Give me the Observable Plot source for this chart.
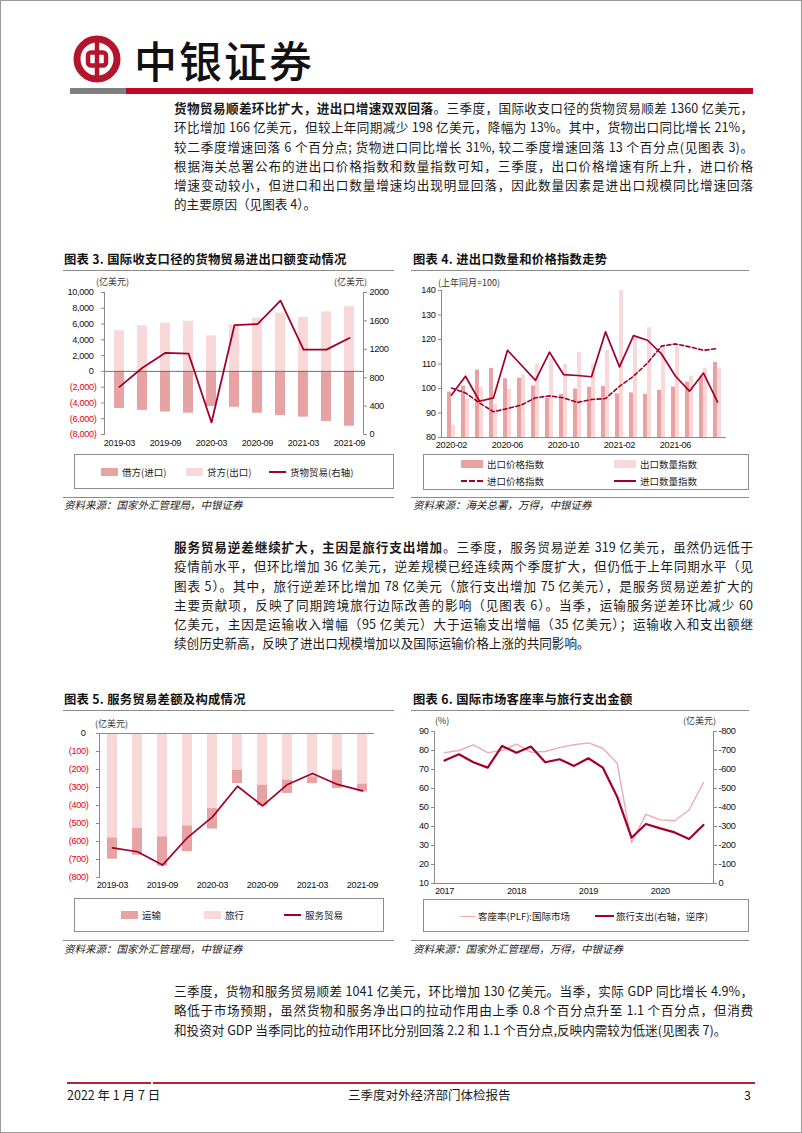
<!DOCTYPE html>
<html><head><meta charset="utf-8">
<script src="https://cdn.jsdelivr.net/npm/d3@7"></script>
<script src="https://cdn.jsdelivr.net/npm/@observablehq/plot@0.6"></script>
<style>
html,body{margin:0;padding:0;background:#fff;}
#page{position:relative;width:802px;height:1133px;overflow:hidden;font-family:"Noto Sans CJK SC","Noto Sans",sans-serif;color:#1a1a1a;box-sizing:border-box;border:1px solid #9a9a9a;}
.abs{position:absolute;}
.para{position:absolute;left:173px;width:579px;font-size:12.6px;line-height:19.3px;}
.para div{height:19.3px;overflow:visible;text-align:justify;text-align-last:justify;}
.para div.last{text-align-last:left;}
.para b{font-weight:700;}
.ctitle{position:absolute;font-size:12.3px;font-weight:700;letter-spacing:0.3px;line-height:16px;color:#111;}
.rule{position:absolute;height:1px;background:#8c8c8c;}
.src{position:absolute;font-size:10.5px;font-style:italic;color:#222;line-height:14px;}
.chart{position:absolute;}
.chart svg{position:absolute;left:0;top:0;max-width:none !important;}
.unit{position:absolute;font-size:9px;color:#333;line-height:11px;white-space:nowrap;}
.legend{position:absolute;border:1px solid #8c8c8c;box-sizing:border-box;}
.li{position:absolute;font-size:9.5px;color:#222;line-height:12px;white-space:nowrap;display:flex;align-items:center;}
.sw{display:inline-block;width:17px;height:8px;margin-right:4px;}
.ln{display:inline-block;width:17px;height:0;margin-right:4px;}
</style></head>
<body>
<div id="page">
  <svg class="abs" style="left:70px;top:32px" width="54" height="54" viewBox="0 0 54 54">
    <circle cx="26" cy="26" r="20" fill="none" stroke="#b3152d" stroke-width="7"/>
    <rect x="17" y="19.5" width="18" height="13" rx="3" fill="none" stroke="#b3152d" stroke-width="4.5"/>
    <line x1="26" y1="4" x2="26" y2="48" stroke="#b3152d" stroke-width="4.5"/>
  </svg>
  <div class="abs" style="left:133px;top:30px;font-size:43px;line-height:56px;font-weight:500;letter-spacing:2px;color:#111;">中银证券</div>
  <div class="abs" style="left:69px;top:87px;width:56px;height:6px;background:#7f7f7f;"></div>
  <div class="abs" style="left:125px;top:87px;width:627px;height:6px;background:#bf0a26;"></div>

  <div class="para" style="top:97px">
    <div><b>货物贸易顺差环比扩大，进出口增速双双回落</b>。三季度，国际收支口径的货物贸易顺差 1360 亿美元，</div>
    <div>环比增加 166 亿美元，但较上年同期减少 198 亿美元，降幅为 13%。其中，货物出口同比增长 21%，</div>
    <div>较二季度增速回落 6 个百分点; 货物进口同比增长 31%, 较二季度增速回落 13 个百分点(见图表 3)。</div>
    <div>根据海关总署公布的进出口价格指数和数量指数可知，三季度，出口价格增速有所上升，进口价格</div>
    <div>增速变动较小，但进口和出口数量增速均出现明显回落，因此数量因素是进出口规模同比增速回落</div>
    <div class="last">的主要原因（见图表 4）。</div>
  </div>

  <!-- chart 3 -->
  <div class="ctitle" style="left:63px;top:250px">图表 3. 国际收支口径的货物贸易进出口额变动情况</div>
  <div class="rule" style="left:62px;top:269px;width:331px"></div>
  <div class="unit" style="left:95px;top:275px">(亿美元)</div>
  <div class="unit" style="left:333px;top:275px">(亿美元)</div>
  <div id="c3" class="chart" style="left:62px;top:275px;width:336px;height:175px"></div>
  <div class="legend" style="left:73px;top:453px;width:320px;height:35px">
    <div class="li" style="left:26px;top:11px"><span class="sw" style="background:#e7a2a4"></span>借方(进口)</div>
    <div class="li" style="left:111px;top:11px"><span class="sw" style="background:#f8d8d8"></span>贷方(出口)</div>
    <div class="li" style="left:194px;top:11px"><span class="ln" style="border-top:2px solid #a0002a"></span>货物贸易(右轴)</div>
  </div>
  <div class="rule" style="left:62px;top:496px;width:331px"></div>
  <div class="src" style="left:63px;top:497px">资料来源：国家外汇管理局，中银证券</div>

  <!-- chart 4 -->
  <div class="ctitle" style="left:412px;top:250px">图表 4. 进出口数量和价格指数走势</div>
  <div class="rule" style="left:410px;top:269px;width:338px"></div>
  <div class="unit" style="left:437px;top:276px">(上年同月=100)</div>
  <div id="c4" class="chart" style="left:410px;top:275px;width:338px;height:180px"></div>
  <div class="legend" style="left:422px;top:453px;width:326px;height:36px">
    <div class="li" style="left:37px;top:3px"><span class="sw" style="background:#e7a2a4;width:22px"></span>出口价格指数</div>
    <div class="li" style="left:190px;top:3px"><span class="sw" style="background:#f8d8d8;width:22px"></span>出口数量指数</div>
    <div class="li" style="left:37px;top:20px"><span class="ln" style="width:22px;border-top:2px dashed #a0002a"></span>进口价格指数</div>
    <div class="li" style="left:190px;top:20px"><span class="ln" style="width:22px;border-top:2px solid #a0002a"></span>进口数量指数</div>
  </div>
  <div class="rule" style="left:410px;top:496px;width:338px"></div>
  <div class="src" style="left:412px;top:497px">资料来源：海关总署，万得，中银证券</div>

  <div class="para" style="top:536px">
    <div><b>服务贸易逆差继续扩大，主因是旅行支出增加</b>。三季度，服务贸易逆差 319 亿美元，虽然仍远低于</div>
    <div>疫情前水平，但环比增加 36 亿美元，逆差规模已经连续两个季度扩大，但仍低于上年同期水平（见</div>
    <div>图表 5）。其中，旅行逆差环比增加 78 亿美元（旅行支出增加 75 亿美元），是服务贸易逆差扩大的</div>
    <div>主要贡献项，反映了同期跨境旅行边际改善的影响（见图表 6）。当季，运输服务逆差环比减少 60</div>
    <div>亿美元，主因是运输收入增幅（95 亿美元）大于运输支出增幅（35 亿美元）；运输收入和支出额继</div>
    <div class="last">续创历史新高，反映了进出口规模增加以及国际运输价格上涨的共同影响。</div>
  </div>

  <!-- chart 5 -->
  <div class="ctitle" style="left:63px;top:690px">图表 5. 服务贸易差额及构成情况</div>
  <div class="rule" style="left:62px;top:709px;width:331px"></div>
  <div class="unit" style="left:94px;top:717px">(亿美元)</div>
  <div id="c5" class="chart" style="left:62px;top:715px;width:336px;height:180px"></div>
  <div class="legend" style="left:73px;top:897px;width:310px;height:34px">
    <div class="li" style="left:46px;top:10px"><span class="sw" style="background:#e7a2a4"></span>运输</div>
    <div class="li" style="left:129px;top:10px"><span class="sw" style="background:#f8d8d8"></span>旅行</div>
    <div class="li" style="left:209px;top:10px"><span class="ln" style="border-top:2px solid #a0002a"></span>服务贸易</div>
  </div>
  <div class="rule" style="left:62px;top:939px;width:331px"></div>
  <div class="src" style="left:63px;top:941px">资料来源：国家外汇管理局，中银证券</div>

  <!-- chart 6 -->
  <div class="ctitle" style="left:412px;top:690px">图表 6. 国际市场客座率与旅行支出金额</div>
  <div class="rule" style="left:410px;top:709px;width:338px"></div>
  <div class="unit" style="left:434px;top:714px">(%)</div>
  <div class="unit" style="left:682px;top:714px">(亿美元)</div>
  <div id="c6" class="chart" style="left:410px;top:715px;width:338px;height:185px"></div>
  <div class="legend" style="left:422px;top:898px;width:326px;height:33px">
    <div class="li" style="left:36px;top:10px"><span class="ln" style="width:15px;border-top:1.5px solid #eeaab0;margin-right:3px"></span>客座率(PLF):国际市场</div>
    <div class="li" style="left:171px;top:10px"><span class="ln" style="width:19px;border-top:2.5px solid #a0002a;margin-right:2px"></span>旅行支出(右轴，逆序)</div>
  </div>
  <div class="rule" style="left:410px;top:939px;width:338px"></div>
  <div class="src" style="left:412px;top:941px">资料来源：国家外汇管理局，万得，中银证券</div>

  <div class="para" style="top:980px">
    <div>三季度，货物和服务贸易顺差 1041 亿美元，环比增加 130 亿美元。当季，实际 GDP 同比增长 4.9%，</div>
    <div>略低于市场预期，虽然货物和服务净出口的拉动作用由上季 0.8 个百分点升至 1.1 个百分点，但消费</div>
    <div class="last">和投资对 GDP 当季同比的拉动作用环比分别回落 2.2 和 1.1 个百分点,反映内需较为低迷(见图表 7)。</div>
  </div>

  <div class="abs" style="left:66px;top:1081px;width:84px;height:2px;background:#b0213a;"></div>
  <div class="abs" style="left:152px;top:1081px;width:602px;height:2px;background:#b0213a;"></div>
  <div class="abs" style="left:66px;top:1085px;font-size:12.5px;line-height:17px;">2022 年 1 月 7 日</div>
  <div class="abs" style="left:347px;top:1085px;font-size:12.5px;line-height:17px;">三季度对外经济部门体检报告</div>
  <div class="abs" style="left:743px;top:1085px;font-size:12.5px;line-height:17px;">3</div>
</div>

<script>
// ---------- data ----------
// Chart 3: goods trade (BOP basis), quarterly
const quarters3 = ["2019-03","2019-06","2019-09","2019-12","2020-03","2020-06","2020-09","2020-12","2021-03","2021-06","2021-09"];
const debit3  = [-4700,-4950,-5150,-5300,-4450,-4550,-5300,-5600,-5800,-6350,-6950];
const credit3 = [5150,5800,6100,6350,4500,5900,6750,7400,6850,7550,8200];
const goods3  = [670,940,1150,1140,170,1540,1555,1885,1195,1195,1360];
const yTicks3L = [10000,8000,6000,4000,2000,0,-2000,-4000,-6000,-8000];
const yTicks3R = [0,400,800,1200,1600,2000];
const xLabels3 = ["2019-03","2019-09","2020-03","2020-09","2021-03","2021-09"];

// Chart 4: monthly indices (same month last year = 100)
const months4 = ["2020-02","2020-03","2020-04","2020-05","2020-06","2020-07","2020-08","2020-09","2020-10","2020-11","2020-12","2021-01","2021-02","2021-03","2021-04","2021-05","2021-06","2021-07","2021-08","2021-09"];
const expPrice4 = [98.5,101,107.5,108.2,104,104.2,101,96,97.5,99.8,100.5,100.8,97.8,98.2,97.6,99.3,100.6,102.6,105,110.6];
const expQty4   = [85,95.5,100.3,93.5,99.8,105.5,110,112,109.8,114.8,110,115.5,140,120.5,124.8,116.5,117.5,105,108.3,108.3];
const impPrice4 = [100.2,98.2,94.1,90.5,91.8,93.3,96.2,97,96.2,94.3,95.5,95.9,100.9,105,110.4,117.3,118.2,117,115.6,116.3];
const impQty4   = [97.3,105,94.8,96.2,115.6,109.5,103.3,114.8,105.7,105.3,104.8,123.1,108.8,121.6,119.7,114.1,105,98.9,106.3,94.5];
const yTicks4 = [80,90,100,110,120,130,140];
const xLabels4 = ["2020-02","2020-06","2020-10","2021-02","2021-06"];

// Chart 5: services trade balance and components
const quarters5 = quarters3;
const transport5 = [-118,-148,-163,-144,-114,-74,-115,-74,-37,-102,-43];
const travel5    = [-580,-528,-574,-513,-417,-204,-287,-259,-241,-204,-281];
const services5  = [-635,-657,-731,-578,-463,-293,-402,-283,-222,-283,-319];
const yTicks5 = [0,-100,-200,-300,-400,-500,-600,-700,-800];
const xLabels5 = xLabels3;

// Chart 6: passenger load factor & travel expenditure, quarterly 2017Q1-2021Q3
const periods6 = d3.range(19);
const plf6    = [78.9,80.0,83.0,78.9,80.0,83.3,79.1,79.5,81.5,83.0,84.0,81.2,73.3,31.5,46.4,43.5,43.0,48.7,63.1];
const travel6 = [-647,-680,-638,-610,-724,-688,-721,-638,-654,-619,-659,-610,-457,-241,-313,-290,-269,-234,-308];
const yTicks6L = [10,20,30,40,50,60,70,80,90];
const yTicks6R = [0,-100,-200,-300,-400,-500,-600,-700,-800];
const xLabels6 = {0:"2017",5:"2018",10:"2019",15:"2020"};

// ---------- style ----------
const C = {light:"#f8d8d8", mid:"#e7a2a4", dark:"#a0002a", plf:"#eeaab0", red:"#e3000f", axis:"#8a8a8a", text:"#111"};
const tickFont = "'Liberation Sans Narrow','Arial Narrow','Liberation Sans',Arial,sans-serif";
const st = () => ({background:"none", fontFamily:tickFont, fontSize:"9.2px", letterSpacing:"-0.35px", color:C.text, overflow:"visible", maxWidth:"none"});
const comma = d3.format(",");
const paren = d => d < 0 ? `(${comma(-d)})` : comma(d);

function mount(id, ...svgs){ const el = document.getElementById(id); svgs.forEach(s => el.appendChild(s)); }

// ---------- chart 3 ----------
{
  const dims = {width:336, height:175, marginLeft:41, marginRight:36, marginTop:16, marginBottom:17};
  const xs = {type:"band", domain:quarters3, paddingInner:0.576, paddingOuter:0.275, label:null};
  const rows = quarters3.map((q,i) => ({q, debit:debit3[i], credit:credit3[i], goods:goods3[i]}));
  const left = Plot.plot({
    ...dims, style:st(), x:xs, y:{domain:[-8000,10000], label:null},
    marks:[
      Plot.barY(rows, {x:"q", y:"credit", fill:C.light}),
      Plot.barY(rows, {x:"q", y:"debit", fill:C.mid}),
      Plot.ruleY([0], {stroke:"#707070", strokeWidth:1}),
      Plot.frame({anchor:"left", stroke:C.axis}),
      Plot.axisY({ticks:yTicks3L.filter(d=>d>=0), label:null, tickSize:3, tickPadding:8, tickFormat:paren, stroke:C.axis, fill:C.text}),
      Plot.axisY({ticks:yTicks3L.filter(d=>d<0), label:null, tickSize:3, tickPadding:5, tickFormat:paren, stroke:C.axis, fill:C.red}),
      Plot.axisX({ticks:xLabels3, label:null, tickSize:0, tickPadding:5, fill:C.text})
    ]
  });
  const right = Plot.plot({
    ...dims, style:st(), x:{...xs, axis:null}, y:{domain:[0,2000], label:null},
    marks:[
      Plot.lineY(rows, {x:"q", y:"goods", stroke:C.dark, strokeWidth:1.8}),
      Plot.frame({anchor:"right", stroke:C.axis}),
      Plot.axisY({anchor:"right", ticks:yTicks3R, label:null, tickSize:3, tickPadding:3, stroke:C.axis, fill:C.text, tickFormat:d=>String(d)})
    ]
  });
  mount("c3", left, right);
}

// ---------- chart 4 ----------
{
  const rows = months4.map((m,i) => ({m, ep:expPrice4[i], eq:expQty4[i], ip:impPrice4[i], iq:impQty4[i]}));
  const p = Plot.plot({
    width:338, height:180, marginLeft:30, marginRight:23, marginTop:14, marginBottom:19,
    style:st(),
    x:{type:"band", domain:months4, paddingInner:0.44, paddingOuter:0.25, label:null},
    y:{domain:[80,140], label:null},
    marks:[
      Plot.barY(rows, {x:"m", y1:80, y2:"ep", fill:C.mid, insetRight:4}),
      Plot.barY(rows, {x:"m", y1:80, y2:"eq", fill:C.light, insetLeft:4}),
      Plot.lineY(rows, {x:"m", y:"ip", stroke:C.dark, strokeWidth:1.6, strokeDasharray:"4,2.5"}),
      Plot.lineY(rows, {x:"m", y:"iq", stroke:C.dark, strokeWidth:1.7}),
      Plot.ruleY([80], {stroke:C.axis}),
      Plot.frame({anchor:"left", stroke:C.axis}),
      Plot.axisY({ticks:yTicks4, label:null, tickSize:3, tickPadding:3, stroke:C.axis, fill:C.text}),
      Plot.axisX({ticks:xLabels4, label:null, tickSize:0, tickPadding:4, fill:C.text})
    ]
  });
  mount("c4", p);
}

// ---------- chart 5 ----------
{
  const rows = quarters5.map((q,i) => ({q, tr:transport5[i], tv:travel5[i], sv:services5[i]}));
  const p = Plot.plot({
    width:336, height:180, marginLeft:36, marginRight:25, marginTop:17, marginBottom:19,
    style:st(),
    x:{type:"band", domain:quarters5, paddingInner:0.608, paddingOuter:0.196, label:null},
    y:{domain:[-800,0], label:null},
    marks:[
      Plot.barY(rows, {x:"q", y1:0, y2:"tv", fill:C.light}),
      Plot.barY(rows, {x:"q", y1:"tv", y2:d => d.tv + d.tr, fill:C.mid}),
      Plot.lineY(rows, {x:"q", y:"sv", stroke:C.dark, strokeWidth:1.7}),
      Plot.ruleY([0], {stroke:C.axis}),
      Plot.frame({anchor:"left", stroke:C.axis}),
      Plot.axisY({ticks:yTicks5.filter(d=>d>=0), label:null, tickSize:3, tickPadding:11, tickFormat:paren, stroke:C.axis, fill:C.text}),
      Plot.axisY({ticks:yTicks5.filter(d=>d<0), label:null, tickSize:3, tickPadding:8, tickFormat:paren, stroke:C.axis, fill:C.red}),
      Plot.axisX({ticks:xLabels5, label:null, tickSize:0, tickPadding:4, fill:C.text})
    ]
  });
  mount("c5", p);
}

// ---------- chart 6 ----------
{
  const dims = {width:338, height:185, marginLeft:23, marginRight:36, marginTop:15, marginBottom:18};
  const xs = {type:"linear", domain:[-0.7,18.7], label:null};
  const rows = periods6.map((i) => ({i, plf:plf6[i], tv:travel6[i]}));
  const left = Plot.plot({
    ...dims, style:st(), x:xs, y:{domain:[10,90], label:null},
    marks:[
      Plot.lineY(rows, {x:"i", y:"plf", stroke:C.plf, strokeWidth:1.4}),
      Plot.ruleY([10], {stroke:C.axis}),
      Plot.frame({anchor:"left", stroke:C.axis}),
      Plot.axisY({ticks:yTicks6L, label:null, tickSize:3, tickPadding:3, stroke:C.axis, fill:C.text}),
      Plot.axisX({ticks:Object.keys(xLabels6).map(Number), label:null, tickSize:0, tickPadding:4, tickFormat:d=>xLabels6[d], fill:C.text})
    ]
  });
  const right = Plot.plot({
    ...dims, style:st(), x:{...xs, axis:null}, y:{domain:[0,-800], label:null},
    marks:[
      Plot.lineY(rows, {x:"i", y:"tv", stroke:C.dark, strokeWidth:2.2}),
      Plot.frame({anchor:"right", stroke:C.axis}),
      Plot.axisY({anchor:"right", ticks:yTicks6R, label:null, tickSize:3, tickPadding:2, stroke:C.axis, fill:C.text, tickFormat:d => d === 0 ? "0" : String(d)})
    ]
  });
  mount("c6", left, right);
}
</script>
</body></html>
